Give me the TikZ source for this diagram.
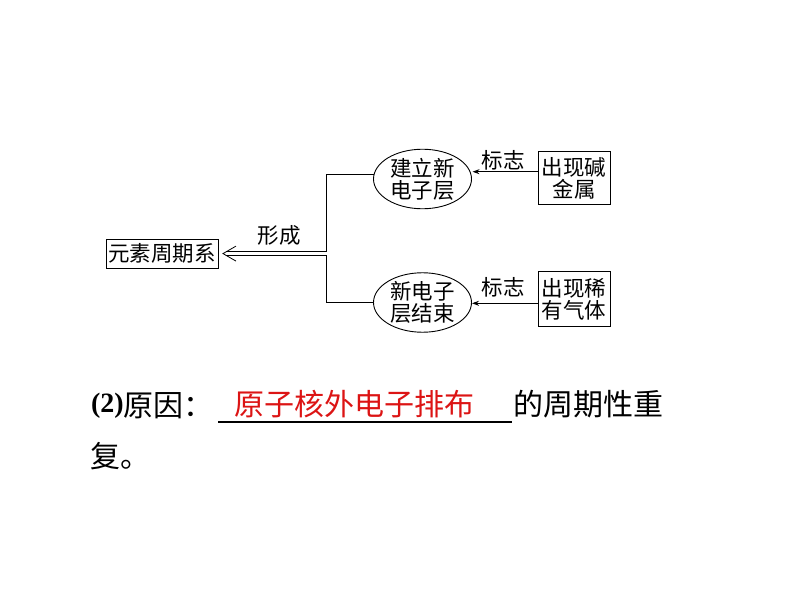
\documentclass[tikz,border=0pt]{standalone}
\usepackage{fontspec}
\setmainfont{Liberation Serif}
\newfontfamily\cjk{Noto Sans CJK SC}
\usetikzlibrary{shapes.geometric,arrows.meta}
\tikzset{
  every node/.style={inner sep=0pt,outer sep=0pt},
  lbl/.style={font=\cjk\fontsize{21.5}{22}\selectfont},
  boxnode/.style={draw,line width=0.9pt,font=\cjk\fontsize{21.5}{22}\selectfont,align=center},
  ellnode/.style={draw,ellipse,line width=0.9pt,minimum width=98pt,minimum height=57pt,font=\cjk\fontsize{21.5}{22}\selectfont,align=center},
  ln/.style={line width=0.9pt},
  arr/.style={line width=0.9pt,-{Stealth[length=7pt,width=5pt]}},
  big/.style={font=\cjk\fontsize{30}{32}\selectfont,anchor=west}
}
\begin{document}
\begin{tikzpicture}[x=1pt,y=-1pt]
\useasboundingbox (0,0) rectangle (794,596);
% nodes
\node[boxnode,minimum width=112pt,minimum height=29pt] (b0) at (162,253.5) {元素周期系};
\node[ellnode] (e1) at (422.5,179) {建立新\\电子层};
\node[ellnode,minimum height=55pt] (e2) at (422.5,302.5) {新电子\\层结束};
\node[boxnode,minimum width=72pt,minimum height=53pt] (b1) at (574,178.4) {出现碱\\金属};
\node[boxnode,minimum width=72pt,minimum height=55pt] (b2) at (574,299.2) {出现稀\\有气体};
% labels
\node[lbl] (l0) at (279,235) {形成};
\node[lbl] (l1) at (503,160) {标志};
\node[lbl] (l2) at (503,287) {标志};
% coordinates
\coordinate (v1) at (326.7,174.3);
\coordinate (v2) at (326.7,302.3);
\coordinate (vm) at (326.7,253.6);
\coordinate (a1) at (0,171.7);
\coordinate (a2) at (0,303.3);
\coordinate (tp) at (223,253.6);
% connectors
\draw[ln] (e1.west |- v1) -- (v1) -- (v2) -- (e2.west |- v2);
\draw[arr] (b1.west |- a1) -- ([xshift=1pt]e1.east |- a1);
\draw[arr] (b2.west |- a2) -- ([xshift=0.5pt]e2.east |- a2);
\draw[line width=0.8pt,double,double distance=3.2pt] (vm) -- ([xshift=3pt]tp);
\draw[line width=0.8pt] ([xshift=13pt,yshift=7.5pt]tp) -- (tp) -- ([xshift=13pt,yshift=-7.5pt]tp);
% bottom text
\node[anchor=west,font=\bfseries\fontsize{28}{32}\selectfont] (p2) at (91,405.5) {(2)};
\node[big] (t1) at (p2.east) {原因：};
\draw[line width=1.4pt] (218,421.8) coordinate (u1) -- (512,421.8) coordinate (u2);
\node[font=\cjk\fontsize{30}{32}\selectfont,text={rgb,255:red,220;green,20;blue,20}] (red) at (354,404.5) {原子核外电子排布};
\node[big] (t2) at (513,404.5) {的周期性重};
\node[big] (t3) at (90,456) {复。};
\end{tikzpicture}
\end{document}
